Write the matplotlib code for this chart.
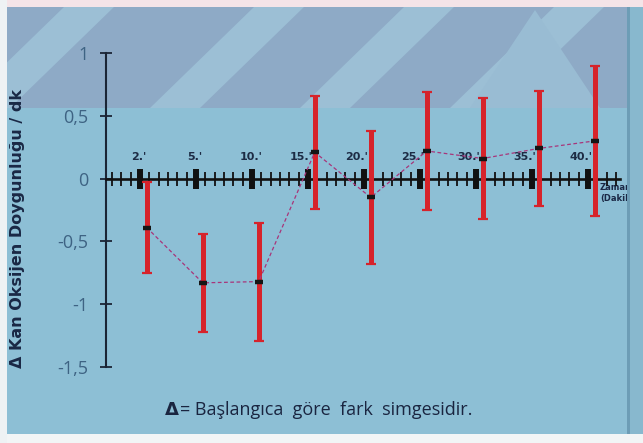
import numpy as np
import matplotlib
matplotlib.use("Agg")
import matplotlib.pyplot as plt
import matplotlib.patches as patches
from matplotlib.ticker import FixedLocator
from matplotlib.transforms import ScaledTranslation

# time points (minutes) and change in blood oxygen saturation
time_labels = ["2.'", "5.'", "10.'", "15.'", "20.'", "25.'", "30.'", "35.'", "40.'"]
mean_change = [-0.39, -0.83, -0.82, 0.21, -0.15, 0.22, 0.16, 0.24, 0.30]
sd_change = [0.36, 0.39, 0.47, 0.45, 0.53, 0.47, 0.48, 0.46, 0.60]
y_ticks = [1, 0.5, 0, -0.5, -1, -1.5]
y_tick_labels = ["1", "0,5", "0", "-0,5", "-1", "-1,5"]

W, H = 643, 443
fig = plt.figure(figsize=(W / 100, H / 100), dpi=100)
fig.patch.set_facecolor("#8dbfd5")


def px_rect(x0, y0, x1, y1, color, z=0):
    # rectangle given in pixel coords measured from the top-left corner
    fig.patches.append(patches.Rectangle((x0 / W, 1 - y1 / H), (x1 - x0) / W, (y1 - y0) / H,
                                         transform=fig.transFigure, facecolor=color,
                                         edgecolor="none", zorder=z))


def px_poly(pts, color, z=0):
    fig.patches.append(patches.Polygon([(x / W, 1 - y / H) for x, y in pts],
                                       transform=fig.transFigure, facecolor=color,
                                       edgecolor="none", zorder=z))


# slide background
px_rect(0, 6, W, 108, "#8eaac6")
for x0 in [-40, 150, 300, 450]:
    px_poly([(x0, 108), (x0 + 50, 108), (x0 + 155, 6), (x0 + 105, 6)], "#9cbfd5")
px_poly([(470, 108), (535, 10), (600, 108)], "#99bcd3")
px_rect(0, 0, W, 7, "#f4e4e8")
px_rect(0, 434, W, H, "#f2f5f6")
px_rect(0, 0, 7, H, "#eef2f4")
px_rect(627, 7, 630, 434, "#6d9db6", z=5)
px_rect(630, 7, W, 434, "#88b8ce", z=5)

# axes placed so that the axis lines sit where they do on the slide
ax_left, ax_right = 106, 620
ax_top, ax_bot = 53, 367
ax = fig.add_axes([ax_left / W, 1 - ax_bot / H, (ax_right - ax_left) / W, (ax_bot - ax_top) / H])
ax.set_zorder(2)
ax.patch.set_alpha(0)
x0_px, step_px = 140, 56
ax.set_xlim((ax_left - x0_px) / step_px, (ax_right - x0_px) / step_px)
ax.set_ylim(-1.5, 1)

x = np.arange(len(time_labels))
xb = x + 0.12

ax.errorbar(xb, mean_change, yerr=sd_change, fmt="none", ecolor="#d6232b",
            elinewidth=3.6, capsize=3.8, capthick=1.6, zorder=3)
ax.plot(xb, mean_change, ls=(0, (3, 2)), color="#a8357a", lw=0.9, zorder=3.5)
ax.plot(xb, mean_change, ls="none", marker="_", ms=6, mew=3.2, color="#151515", zorder=4)

# axis lines
for s in ["bottom", "right"]:
    ax.spines[s].set_visible(False)
ax.spines["top"].set_position(("data", 0))
ax.spines["top"].set_linewidth(1.9)
ax.spines["top"].set_color("#111111")
ax.spines["left"].set_linewidth(1.5)
ax.spines["left"].set_color("#1b2535")

ax.xaxis.set_ticks_position("top")
ax.set_xticks(x)
ax.set_xticklabels(time_labels, fontsize=8, fontweight="bold", color="#1d2c45",
                   family="DejaVu Sans")
minor = [i + k / 6 for i in range(-1, 9) for k in range(1, 6)]
minor = [m for m in minor if -0.55 < m < 8.55]
ax.xaxis.set_minor_locator(FixedLocator(minor))
ax.tick_params(axis="x", which="major", direction="inout", length=14, width=4.3,
               color="#111111", pad=5)
ax.tick_params(axis="x", which="minor", direction="inout", length=10, width=1.3,
               color="#111111")

ax.set_yticks(y_ticks)
ax.set_yticklabels(y_tick_labels, fontsize=13, color="#3e6383", family="Open Sans")
ax.tick_params(axis="y", direction="inout", length=9, width=1.3, color="#1b2535", pad=8)

# labels sit a little left of their ticks, clear of the red bars
for i, tick in enumerate(ax.xaxis.get_major_ticks()):
    dx = -1 if i < 3 else -7
    tick.label2.set_transform(tick.label2.get_transform()
                              + ScaledTranslation(dx / 100, 0, fig.dpi_scale_trans))

# texts
fig.text(18 / W, 1 - 228 / H, "Δ Kan Oksijen Doygunluğu / dk", rotation=90,
         ha="center", va="center", fontsize=11.5, fontweight="bold", color="#1a2845",
         family="DejaVu Sans")
fig.text(600 / W, 1 - 193 / H, "Zaman\n(Dakika)", ha="left", va="center",
         fontsize=6, fontweight="bold", color="#1a2845", linespacing=1.15,
         family="DejaVu Sans", zorder=1)
fig.text(165 / W, 1 - 410 / H, "Δ", ha="left", va="center", fontsize=13,
         fontweight="bold", color="#1a2540", family="DejaVu Sans")
fig.text(180 / W, 1 - 410 / H, "= Başlangıca  göre  fark  simgesidir.", ha="left",
         va="center", fontsize=13, color="#1a2540", family="Open Sans")

fig.savefig("out.png", dpi=100)
